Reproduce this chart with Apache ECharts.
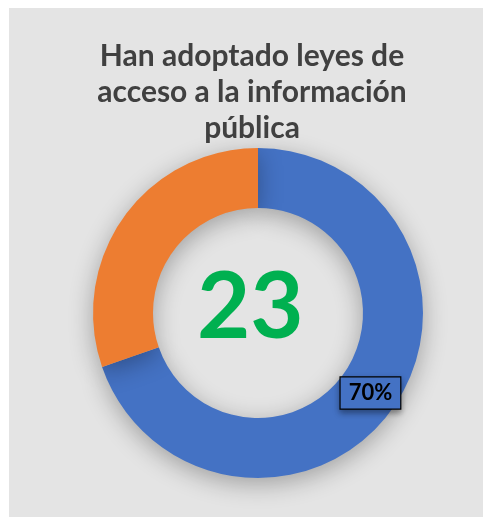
<!DOCTYPE html>
<html>
<head>
<meta charset="utf-8">
<script src="https://cdn.jsdelivr.net/npm/echarts@6/dist/echarts.min.js"></script>
<style>
  html, body { margin: 0; padding: 0; background: #ffffff; }
  #chart { position: absolute; left: 9px; top: 8px; width: 474px; height: 509px; background: #e4e4e4; }
</style>
</head>
<body>
<div id="chart"></div>
<script>
// data
const categories = ['Sí', 'No'];
const values = [23, 10];
const colors = ['#4472c4', '#ed7d31'];
const titleText = 'Han adoptado leyes de\nacceso a la información\npública';
const centerText = '23';

const chart = echarts.init(document.getElementById('chart'));

const options = {
  animation: false,
  title: [
    {
      text: titleText,
      left: 238,
      top: 25,
      textAlign: 'center',
      textStyle: {
        fontFamily: 'Lato',
        fontWeight: 'bold',
        fontSize: 30,
        lineHeight: 36,
        color: '#404040'
      }
    },
    {
      text: centerText,
      left: 183,
      top: 249,
      textStyle: {
        fontFamily: 'Lato',
        fontWeight: 'bold',
        fontSize: 92,
        color: '#00b050'
      }
    }
  ],
  series: [
    {
      type: 'pie',
      center: [249, 305],
      radius: [105, 165],
      startAngle: 90,
      clockwise: true,
      silent: true,
      itemStyle: {
        shadowBlur: 25,
        shadowColor: 'rgba(0,0,0,0.3)',
        shadowOffsetY: 6
      },
      labelLine: { show: false },
      data: categories.map((name, i) => ({
        name: name,
        value: values[i],
        itemStyle: { color: colors[i] },
        label: i === 0 ? {
          show: true,
          position: 'inside',
          formatter: p => Math.round(p.percent) + '%',
          fontFamily: 'Lato',
          fontWeight: 'bold',
          fontSize: 22,
          color: '#000000',
          backgroundColor: colors[0],
          borderColor: '#000000',
          borderWidth: 1.2,
          padding: [5, 8, 4, 8],
          shadowBlur: 6,
          shadowColor: 'rgba(0,0,0,0.35)',
          shadowOffsetY: 3
        } : { show: false }
      }))
    }
  ]
};

chart.setOption(options);
</script>
</body>
</html>
